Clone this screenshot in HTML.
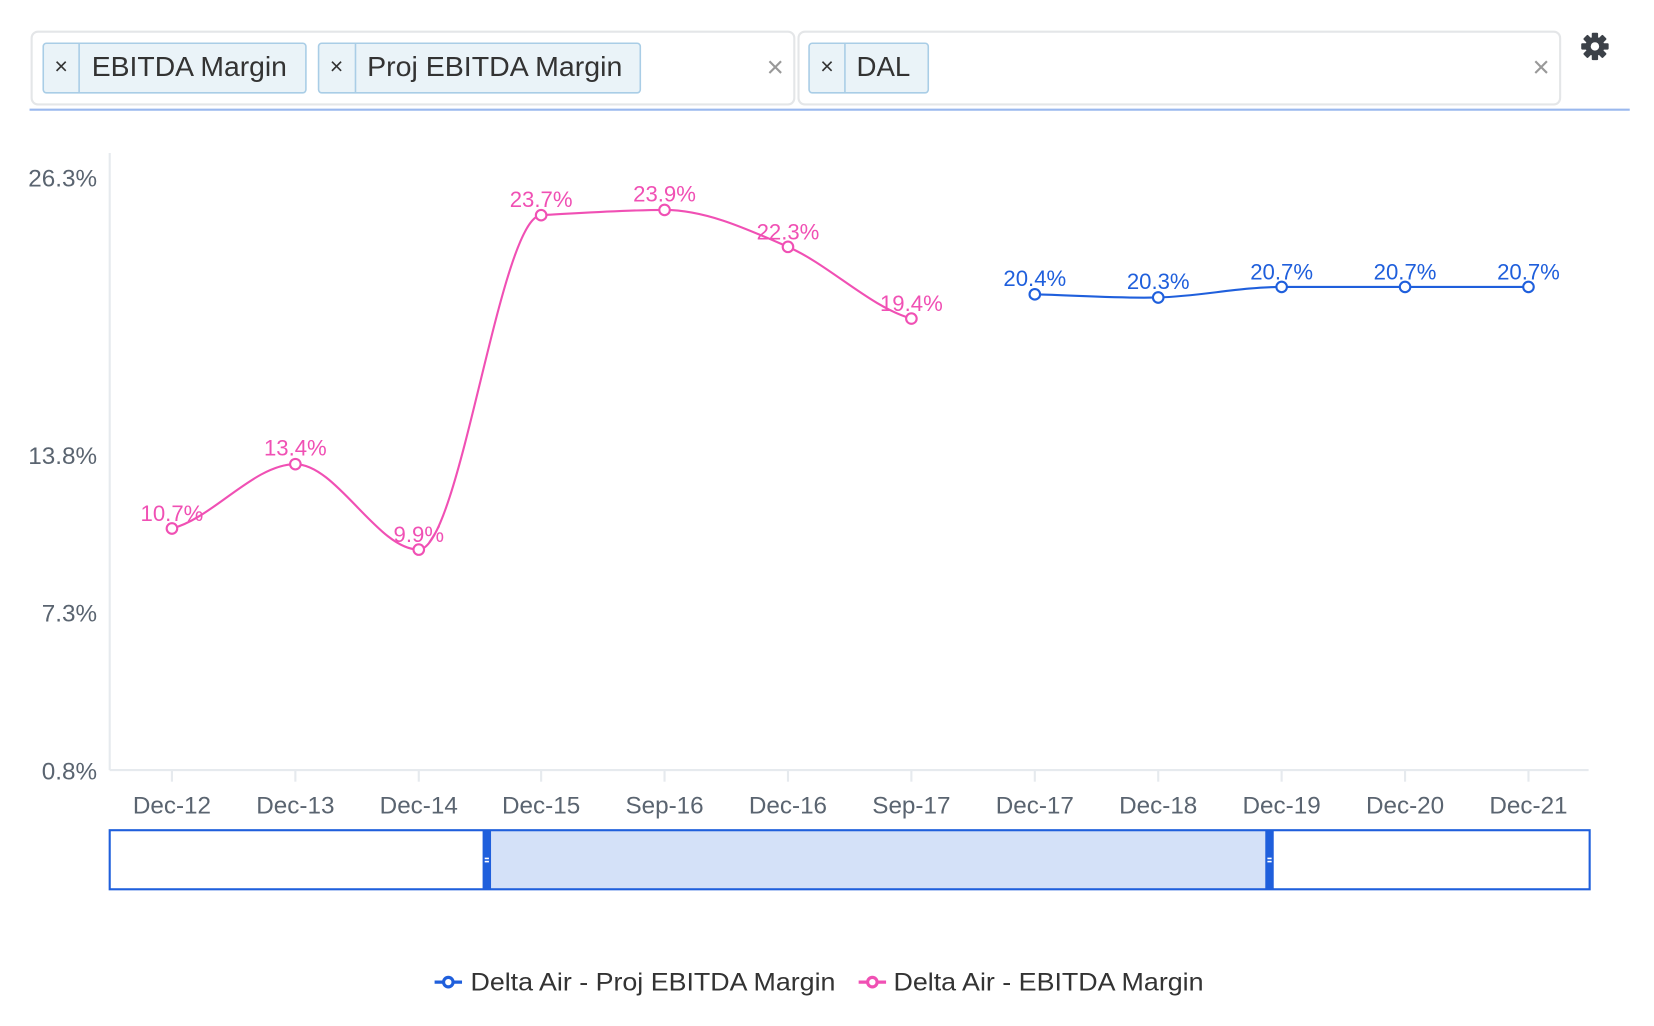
<!DOCTYPE html>
<html><head><meta charset="utf-8"><style>
html,body{margin:0;padding:0;background:#fff;width:1654px;height:1026px;overflow:hidden}
svg{display:block}
text{font-family:"Liberation Sans",sans-serif}
</style></head><body>
<svg width="1654" height="1026" viewBox="0 0 1568 972.6" preserveAspectRatio="none" xmlns="http://www.w3.org/2000/svg">
<rect x="30" y="30" width="723" height="69" rx="6" fill="#fff" stroke="#e4e6e8" stroke-width="2"/>
<rect x="41" y="41" width="249" height="47" rx="3" fill="#eaf3f8" stroke="#a9cde6" stroke-width="1.5"/>
<line x1="75" y1="41" x2="75" y2="88" stroke="#a9cde6" stroke-width="1.5"/>
<text x="58" y="70" font-size="22" fill="#333" text-anchor="middle">×</text>
<text x="87" y="72" font-size="26" fill="#333" textLength="185" lengthAdjust="spacingAndGlyphs">EBITDA Margin</text>
<rect x="302" y="41" width="305" height="47" rx="3" fill="#eaf3f8" stroke="#a9cde6" stroke-width="1.5"/>
<line x1="337" y1="41" x2="337" y2="88" stroke="#a9cde6" stroke-width="1.5"/>
<text x="319" y="70" font-size="22" fill="#333" text-anchor="middle">×</text>
<text x="348" y="72" font-size="26" fill="#333" textLength="242" lengthAdjust="spacingAndGlyphs">Proj EBITDA Margin</text>
<text x="735" y="73" font-size="28" fill="#999" text-anchor="middle">×</text>
<rect x="757" y="30" width="722" height="69" rx="6" fill="#fff" stroke="#e4e6e8" stroke-width="2"/>
<rect x="767" y="41" width="113" height="47" rx="3" fill="#eaf3f8" stroke="#a9cde6" stroke-width="1.5"/>
<line x1="801" y1="41" x2="801" y2="88" stroke="#a9cde6" stroke-width="1.5"/>
<text x="784" y="70" font-size="22" fill="#333" text-anchor="middle">×</text>
<text x="812" y="72" font-size="26" fill="#333" textLength="51" lengthAdjust="spacingAndGlyphs">DAL</text>
<text x="1461" y="73" font-size="28" fill="#999" text-anchor="middle">×</text>
<line x1="28" y1="104" x2="1545" y2="104" stroke="#9ab8ee" stroke-width="2"/>
<g transform="translate(1512,44)" fill="#3c4148">
<circle r="9"/>
<g><rect x="-3" y="-13" width="6" height="26" rx="1"/><rect x="-3" y="-13" width="6" height="26" rx="1" transform="rotate(45)"/><rect x="-3" y="-13" width="6" height="26" rx="1" transform="rotate(90)"/><rect x="-3" y="-13" width="6" height="26" rx="1" transform="rotate(135)"/></g>
<circle r="4" fill="#fff"/>
</g>
<line x1="104" y1="145" x2="104" y2="730" stroke="#e6eaee" stroke-width="2"/>
<line x1="104" y1="730" x2="1506" y2="730" stroke="#e6eaee" stroke-width="2"/>
<g stroke="#e6eaee" stroke-width="2">
<line x1="163" y1="730" x2="163" y2="741"/><line x1="280" y1="730" x2="280" y2="741"/><line x1="397" y1="730" x2="397" y2="741"/><line x1="513" y1="730" x2="513" y2="741"/><line x1="630" y1="730" x2="630" y2="741"/><line x1="747" y1="730" x2="747" y2="741"/><line x1="864" y1="730" x2="864" y2="741"/><line x1="981" y1="730" x2="981" y2="741"/><line x1="1098" y1="730" x2="1098" y2="741"/><line x1="1215" y1="730" x2="1215" y2="741"/><line x1="1332" y1="730" x2="1332" y2="741"/><line x1="1449" y1="730" x2="1449" y2="741"/>
</g>
<g font-size="23" fill="#5a6470" text-anchor="end">
<text x="92" y="177">26.3%</text><text x="92" y="440">13.8%</text><text x="92" y="589">7.3%</text><text x="92" y="739">0.8%</text>
</g>
<g font-size="23" fill="#5a6470" text-anchor="middle">
<text x="163" y="771">Dec-12</text><text x="280" y="771">Dec-13</text><text x="397" y="771">Dec-14</text><text x="513" y="771">Dec-15</text><text x="630" y="771">Sep-16</text><text x="747" y="771">Dec-16</text><text x="864" y="771">Sep-17</text><text x="981" y="771">Dec-17</text><text x="1098" y="771">Dec-18</text><text x="1215" y="771">Dec-19</text><text x="1332" y="771">Dec-20</text><text x="1449" y="771">Dec-21</text>
</g>
<path d="M163,501 C202,491 241,440 280,440 C319,440 358,521 397,521 C436,521 474,206 513,204 C552,202 591,199 630,199 C669,199 708,217 747,234 C786,251 825,291 864,302" fill="none" stroke="#f050b4" stroke-width="2"/>
<path d="M981,279 C1020,280 1059,283 1098,282 C1137,281 1176,272 1215,272 L1449,272" fill="none" stroke="#1f5fdc" stroke-width="2"/>
<g fill="#fff" stroke="#f050b4" stroke-width="2">
<circle cx="163" cy="501" r="5"/><circle cx="280" cy="440" r="5"/><circle cx="397" cy="521" r="5"/><circle cx="513" cy="204" r="5"/><circle cx="630" cy="199" r="5"/><circle cx="747" cy="234" r="5"/><circle cx="864" cy="302" r="5"/>
</g>
<g fill="#fff" stroke="#1f5fdc" stroke-width="2">
<circle cx="981" cy="279" r="5"/><circle cx="1098" cy="282" r="5"/><circle cx="1215" cy="272" r="5"/><circle cx="1332" cy="272" r="5"/><circle cx="1449" cy="272" r="5"/>
</g>
<g font-size="21" fill="#f050b4" text-anchor="middle">
<text x="163" y="494">10.7%</text><text x="280" y="432">13.4%</text><text x="397" y="514">9.9%</text><text x="513" y="196">23.7%</text><text x="630" y="191">23.9%</text><text x="747" y="227">22.3%</text><text x="864" y="295">19.4%</text>
</g>
<g font-size="21" fill="#1f5fdc" text-anchor="middle">
<text x="981" y="271">20.4%</text><text x="1098" y="274">20.3%</text><text x="1215" y="265">20.7%</text><text x="1332" y="265">20.7%</text><text x="1449" y="265">20.7%</text>
</g>
<rect x="461" y="787" width="742" height="56" fill="#d4e1f8"/>
<rect x="104" y="787" width="1403" height="56" fill="none" stroke="#1f5fdc" stroke-width="2"/>
<rect x="457.5" y="787" width="8" height="56" fill="#1f5fdc"/>
<rect x="1199.5" y="787" width="8" height="56" fill="#1f5fdc"/>
<g fill="#fff"><rect x="459.5" y="813" width="4" height="1.5"/><rect x="459.5" y="816" width="4" height="1.5"/><rect x="1201.5" y="813" width="4" height="1.5"/><rect x="1201.5" y="816" width="4" height="1.5"/></g>
<line x1="412" y1="931" x2="438" y2="931" stroke="#1f5fdc" stroke-width="3"/>
<circle cx="425" cy="931" r="4.5" fill="#fff" stroke="#1f5fdc" stroke-width="3"/>
<text x="446" y="939" font-size="24" fill="#333" textLength="346" lengthAdjust="spacingAndGlyphs">Delta Air - Proj EBITDA Margin</text>
<line x1="814" y1="931" x2="840" y2="931" stroke="#f050b4" stroke-width="3"/>
<circle cx="827" cy="931" r="4.5" fill="#fff" stroke="#f050b4" stroke-width="3"/>
<text x="847" y="939" font-size="24" fill="#333" textLength="294" lengthAdjust="spacingAndGlyphs">Delta Air - EBITDA Margin</text>
</svg>
</body></html>
